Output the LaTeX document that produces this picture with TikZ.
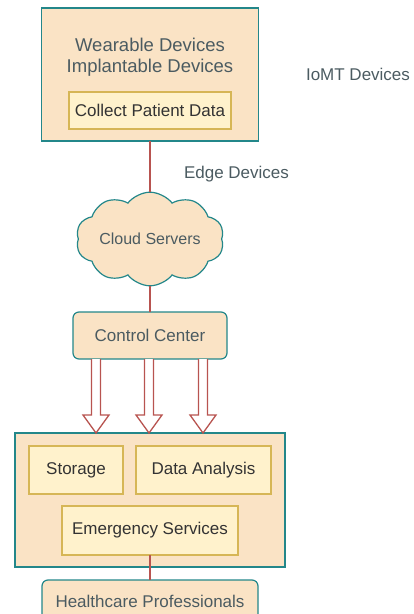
\documentclass[tikz,border=0pt]{standalone}
\usepackage{fontspec}
\setmainfont{Liberation Sans}
\usetikzlibrary{positioning,shapes.symbols,calc}
\definecolor{wheat}{HTML}{FAE3C5}
\definecolor{tealb}{HTML}{23878A}
\definecolor{slate}{HTML}{4B5B61}
\definecolor{paleyel}{HTML}{FFF2CC}
\definecolor{goldb}{HTML}{D6B656}
\definecolor{redl}{HTML}{B85450}

\begin{document}
\begin{tikzpicture}[x=1pt,y=-1pt,
  outer/.style={rectangle,draw=tealb,fill=wheat,line width=1.2pt,inner sep=0pt,outer sep=0pt},
  inner/.style={rectangle,draw=goldb,fill=paleyel,line width=1.2pt,text=black!80,
    font=\fontsize{17}{20}\selectfont,inner sep=0pt,outer sep=0pt},
  soft/.style={rectangle,rounded corners=6pt,draw=tealb,fill=wheat,line width=1.2pt,
    text=slate,font=\fontsize{17}{20}\selectfont,inner sep=0pt,outer sep=0pt},
  lbl/.style={text=slate,font=\fontsize{17}{20}\selectfont},
  link/.style={draw=redl,line width=2pt},
  hollow/.style={draw=redl,fill=white,line width=1.3pt,line join=miter}]
  \useasboundingbox (0,0) rectangle (414,614);
  \clip (0,0) rectangle (414,614);
  % devices
  \node[outer,minimum width=217,minimum height=133] (devices) at (150,74.5) {};
  \node[lbl,align=center,font=\fontsize{18.5}{21}\selectfont] (devtxt) at (150,57)
    {Wearable Devices\\Implantable Devices};
  \node[inner,minimum width=162,minimum height=37] (collect) at (150,110.5) {Collect Patient Data};
  \node[lbl] (iomt) at (358,74) {IoMT Devices};
  \node[lbl] (edge) at (236.5,174) {Edge Devices};
  % cloud and control
  \node[cloud,cloud puffs=10,cloud puff arc=105,aspect=1.9,draw=tealb,fill=wheat,line width=1.2pt,
    minimum width=128,minimum height=68,inner sep=0pt,text=slate,
    font=\fontsize{16}{19}\selectfont] (cloud) at (150,239) {Cloud Servers};
  \node[soft,minimum width=154,minimum height=47] (ctrl) at (150,335.5) {Control Center};
  % services
  \node[outer,minimum width=270,minimum height=134] (hub) at (150,500) {};
  \node[inner,minimum width=94,minimum height=48] (storage) at (76,470) {Storage};
  \node[inner,minimum width=135,minimum height=48] (analysis) at (203.5,470) {Data Analysis};
  \node[inner,minimum width=176,minimum height=49] (emergency) at (150,530.5) {Emergency Services};
  \node[soft,minimum width=216,minimum height=42] (staff) at (150,601) {Healthcare Professionals};
  % links
  \draw[link] (devices) -- (cloud);
  \draw[link] (cloud) -- (ctrl);
  \draw[link] (emergency) -- (staff);
  \foreach \dx [count=\i] in {-54,-1,53} {
    \coordinate (top\i) at ($(ctrl.south)+(\dx,0)$);
    \coordinate (tip\i) at (top\i |- hub.north);
    \draw[hollow] ($(top\i)+(-4.5,0)$) -- ($(tip\i)+(-4.5,-18)$) -- ($(tip\i)+(-13,-18)$)
      -- (tip\i) -- ($(tip\i)+(13,-18)$) -- ($(tip\i)+(4.5,-18)$) -- ($(top\i)+(4.5,0)$);
  }
\end{tikzpicture}
\end{document}
